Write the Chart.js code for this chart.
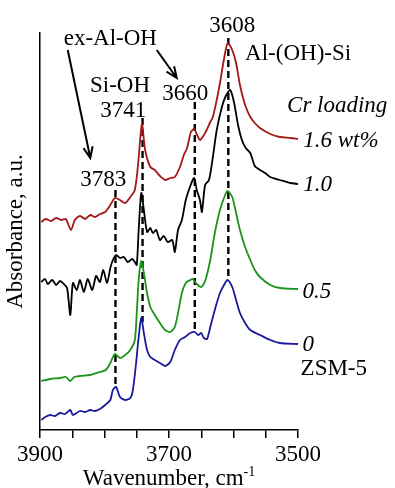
<!doctype html>
<html lang="en">
<head>
<meta charset="utf-8">
<title>OH region IR spectra</title>
<script src="https://cdn.jsdelivr.net/npm/chart.js@4/dist/chart.umd.min.js"></script>
<style>
  body { margin: 0; background: #fff; }
  #wrap { width: 395px; height: 488px; }
</style>
</head>
<body>
<div id="wrap"><canvas id="irChart"></canvas></div>
<script>
// spectra, wavenumber (cm-1) and absorbance (a.u., offset for stacking)
var wn16  = [3898,3891,3883,3875,3867,3860,3852,3846,3838,3830,3822,3815,3807,3799,3791,3784,3776,3768,3760,3753,3748,3742,3737,3729,3722,3714,3706,3698,3691,3683,3677,3672,3666,3661,3657,3652,3644,3636,3632,3626,3621,3615,3609,3602,3596,3590,3582,3574,3567,3559,3543,3528,3512,3500];
var abs16 = [208,211,209,212,210,211,200,210,214,211,215,213,216,218,225,232,230,227,233,240,265,306,280,263,260,254,250,252,253,263,275,282,298,301,296,290,297,308,313,330,347,370,387,380,367,345,325,313,307,302,296,293,292,291];

var wn10  = [3898,3892,3888,3881,3875,3869,3863,3858,3853,3849,3843,3838,3832,3826,3819,3813,3807,3802,3796,3791,3787,3782,3776,3770,3764,3757,3753,3750,3747,3743,3739,3734,3729,3725,3720,3714,3708,3702,3695,3691,3686,3680,3674,3667,3661,3657,3652,3649,3644,3638,3632,3626,3618,3612,3605,3599,3593,3587,3581,3574,3567,3559,3551,3543,3528,3512,3500];
var abs10 = [148,151,146,150,145,149,146,142,115,147,140,150,138,151,140,154,148,160,147,162,170,175,172,173,168,171,168,165,200,237,220,198,202,197,200,190,194,188,190,178,200,210,230,244,252,240,230,218,245,250,273,300,323,334,340,327,305,290,282,277,264,260,257,253,250,247,246];

var wn05  = [3898,3884,3869,3860,3853,3847,3838,3822,3807,3798,3791,3784,3776,3768,3760,3753,3750,3747,3743,3739,3734,3729,3722,3714,3706,3698,3691,3686,3680,3674,3667,3663,3657,3650,3644,3636,3629,3621,3613,3609,3602,3596,3590,3582,3574,3567,3559,3543,3528,3500];
var abs05 = [49,51,52,53,49,53,54,55,58,60,67,76,72,75,80,90,117,150,169,157,137,123,115,107,100,98,103,117,137,147,150,151,146,143,149,170,197,220,235,239,233,217,200,183,170,160,153,145,142,141];

var wn00  = [3898,3892,3884,3877,3869,3861,3853,3849,3838,3830,3822,3815,3807,3799,3791,3787,3782,3776,3768,3760,3756,3751,3748,3743,3739,3734,3729,3722,3714,3706,3698,3691,3683,3675,3667,3660,3655,3650,3646,3641,3636,3629,3621,3613,3609,3602,3596,3590,3582,3574,3559,3543,3528,3500];
var abs00 = [10,13,15,14,17,16,20,15,19,18,20,19,21,25,30,40,43,33,30,32,40,67,87,112,97,80,73,70,67,64,68,80,90,93,97,98,95,97,92,91,103,120,137,147,150,143,130,117,107,100,95,90,87,86];

var seriesNames  = ["1.6 wt%", "1.0", "0.5", "0"];
var seriesColors = ["#a31818", "#000000", "#1c941c", "#1a1a9c"];

// marked bands: position and vertical extent of the dashed guides
var bandWn   = [3783, 3741, 3660, 3608];
var bandTop  = [240, 312, 328, 392];
var bandBase = [42, 108, 98, 150];

function pts(xs, ys) {
  return xs.map(function (x, i) { return { x: x, y: ys[i] }; });
}

var datasets = [];
[[wn16, abs16], [wn10, abs10], [wn05, abs05], [wn00, abs00]].forEach(function (s, i) {
  datasets.push({
    label: seriesNames[i],
    data: pts(s[0], s[1]),
    borderColor: seriesColors[i],
    borderWidth: 1.8,
    pointRadius: 0,
    tension: 0.25,
    fill: false
  });
});
bandWn.forEach(function (w, i) {
  datasets.push({
    label: "band " + w,
    data: [{ x: w, y: bandTop[i] }, { x: w, y: bandBase[i] }],
    borderColor: "#000",
    borderWidth: 2.4,
    borderDash: [7, 4],
    pointRadius: 0
  });
});

// text notes, placed in data coordinates
var notes = [
  { t: "ex-Al-OH",   x: 3791, y: 385, align: "center" },
  { t: "Si-OH",      x: 3776, y: 338, align: "center" },
  { t: "3741",       x: 3771, y: 313, align: "center" },
  { t: "3783",       x: 3802, y: 244, align: "center" },
  { t: "3660",       x: 3675, y: 330, align: "center" },
  { t: "3608",       x: 3602, y: 398, align: "center" },
  { t: "Al-(OH)-Si", x: 3582, y: 370, align: "left" },
  { t: "Cr loading", x: 3517, y: 318, align: "left", it: true },
  { t: "1.6 wt%",    x: 3492, y: 283, align: "left", it: true },
  { t: "1.0",        x: 3492, y: 239, align: "left", it: true },
  { t: "0.5",        x: 3493, y: 132, align: "left", it: true },
  { t: "0",          x: 3493, y: 79,  align: "left", it: true },
  { t: "ZSM-5",      x: 3496, y: 55,  align: "left" }
];
var arrows = [
  { x0: 3857, y0: 380, x1: 3822, y1: 272 },
  { x0: 3719, y0: 380, x1: 3688, y1: 352 }
];

var serif = '"Liberation Serif", "DejaVu Serif", Times, serif';

var notesPlugin = {
  id: "notes",
  afterDraw: function (chart) {
    var ctx = chart.ctx, xs = chart.scales.x, ys = chart.scales.y;
    ctx.save();
    ctx.fillStyle = "#000";
    ctx.textBaseline = "alphabetic";
    notes.forEach(function (n) {
      ctx.font = (n.it ? "italic " : "") + "23px " + serif;
      ctx.textAlign = n.align;
      ctx.fillText(n.t, xs.getPixelForValue(n.x), ys.getPixelForValue(n.y));
    });
    ctx.strokeStyle = "#000";
    ctx.lineWidth = 2;
    arrows.forEach(function (a) {
      var x0 = xs.getPixelForValue(a.x0), y0 = ys.getPixelForValue(a.y0);
      var x1 = xs.getPixelForValue(a.x1), y1 = ys.getPixelForValue(a.y1);
      var ang = Math.atan2(y1 - y0, x1 - x0), h = 12;
      ctx.beginPath();
      ctx.moveTo(x0, y0); ctx.lineTo(x1, y1);
      ctx.moveTo(x1 - h * Math.cos(ang - 0.4), y1 - h * Math.sin(ang - 0.4));
      ctx.lineTo(x1, y1);
      ctx.lineTo(x1 - h * Math.cos(ang + 0.4), y1 - h * Math.sin(ang + 0.4));
      ctx.stroke();
    });
    // x axis title with superscript
    var main = "Wavenumber, cm", sup = "-1";
    ctx.font = "23px " + serif;
    var w1 = ctx.measureText(main).width;
    ctx.font = "14px " + serif;
    var w2 = ctx.measureText(sup).width;
    var cx = (chart.chartArea.left + chart.chartArea.right) / 2, base = 485;
    var left = cx - (w1 + w2) / 2;
    ctx.textAlign = "left";
    ctx.font = "23px " + serif;
    ctx.fillText(main, left, base);
    ctx.font = "14px " + serif;
    ctx.fillText(sup, left + w1, base - 9);
    ctx.restore();
  }
};

new Chart(document.getElementById("irChart"), {
  type: "line",
  data: { datasets: datasets },
  plugins: [notesPlugin],
  options: {
    responsive: true,
    maintainAspectRatio: false,
    animation: false,
    layout: { padding: { top: 33, right: 97, left: 0, bottom: 0 } },
    plugins: { legend: { display: false }, tooltip: { enabled: false } },
    scales: {
      x: {
        type: "linear",
        reverse: true,
        min: 3500,
        max: 3900,
        afterFit: function (s) { s.height = 58; },
        border: { display: true, color: "#000", width: 1.5 },
        grid: { display: true, drawOnChartArea: false, drawTicks: true, tickLength: 8, color: "#000", lineWidth: 1.5 },
        ticks: {
          stepSize: 50,
          autoSkip: false,
          maxRotation: 0,
          padding: 3,
          color: "#000",
          font: { family: serif, size: 23 },
          callback: function (v) { return v % 200 === 100 ? String(v) : ""; }
        }
      },
      y: {
        min: 0,
        max: 397,
        afterFit: function (s) { s.width = 40; },
        border: { display: true, color: "#000", width: 1.5 },
        grid: { display: false },
        ticks: { display: false },
        title: {
          display: true,
          text: "Absorbance, a.u.",
          color: "#000",
          font: { family: serif, size: 23 },
          padding: { top: 2, bottom: 0 }
        }
      }
    }
  }
});
</script>
</body>
</html>
